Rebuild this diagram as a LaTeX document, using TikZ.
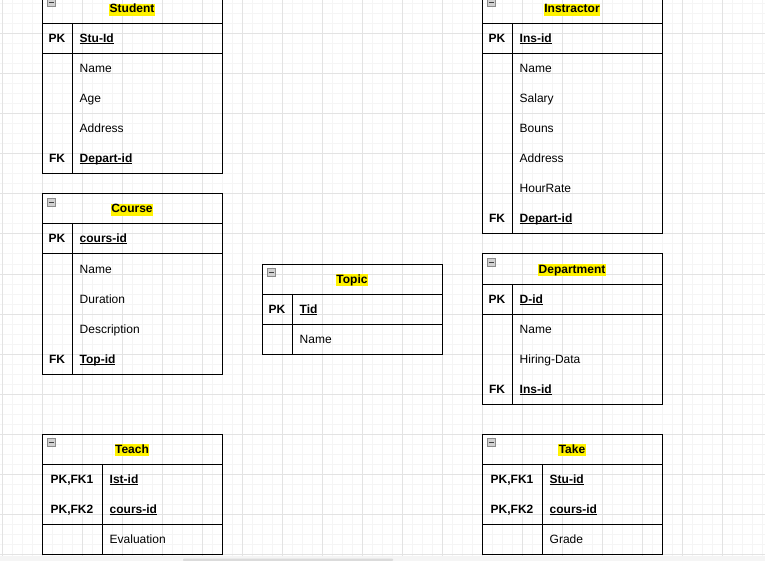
\documentclass[tikz,border=0pt]{standalone}
\usepackage{fontspec}
\setmainfont{Liberation Sans}
\newcommand{\keyattr}[1]{{\bfseries\setbox0\hbox{#1}\rlap{\rule[-1.5pt]{\wd0}{1pt}}\box0}}

\begin{document}
\begin{tikzpicture}[x=1pt, y=-1pt,
	box/.style={draw=black, line width=1pt},
	title/.style={fill=yellow, anchor=base, inner xsep=0.5pt, inner ysep=0pt, text height=9pt, text depth=3pt, font=\fontsize{12}{12}\bfseries\selectfont},
	key/.style={anchor=base, inner sep=0pt, font=\fontsize{12}{12}\bfseries\selectfont},
	field/.style={anchor=base west, inner sep=0pt, font=\fontsize{12}{12}\selectfont},
	icon/.style={draw=black!45, fill=black!18, minimum size=8pt, inner sep=0pt, line width=0.8pt,
		path picture={\draw[black!75, line width=1pt] ([xshift=1.5pt]path picture bounding box.west) -- ([xshift=-1.5pt]path picture bounding box.east);}},
	minor/.style={black!4, line width=1pt},
	major/.style={black!11, line width=1pt}]
	\useasboundingbox (0,0) rectangle (765,561);
	\fill[white] (0,0) rectangle (765,561);
	\foreach \x in {2,12,...,762} \draw[minor] (\x,0) -- (\x,556);
	\foreach \y in {4,14,...,554} \draw[minor] (0,\y) -- (765,\y);
	\foreach \x in {2,42,...,722} \draw[major] (\x,0) -- (\x,556);
	\foreach \y in {34,74,...,554} \draw[major] (0,\y) -- (765,\y);
	\fill[black!4] (0,556) rectangle (765,561);
	\fill[black!14, rounded corners=1pt] (183,558.5) rectangle (393,561);

	\begin{scope}[shift={(42,-6)}]
		\draw[box] (0,0) rectangle (180,180) (0,30) -- (180,30) (0,60) -- (180,60) (30,30) -- (30,180);
		\node[icon] (student-icon) at (9.5,8.5) {};
		\node[title] (student) at (90,19) {Student};
		\foreach \f [count=\i] in {\keyattr{Stu-Id},Name,Age,Address,\keyattr{Depart-id}}
			\node[field] (student-f\i) at (37.5,30*\i+19) {\f};
		\node[key] (student-pk) at (15,49) {PK};
		\node[key] (student-fk) at (15,169) {FK};
	\end{scope}

	\begin{scope}[shift={(42,194)}]
		\draw[box] (0,0) rectangle (180,180) (0,30) -- (180,30) (0,60) -- (180,60) (30,30) -- (30,180);
		\node[icon] (course-icon) at (9.5,8.5) {};
		\node[title] (course) at (90,19) {Course};
		\foreach \f [count=\i] in {\keyattr{cours-id},Name,Duration,Description,\keyattr{Top-id}}
			\node[field] (course-f\i) at (37.5,30*\i+19) {\f};
		\node[key] (course-pk) at (15,49) {PK};
		\node[key] (course-fk) at (15,169) {FK};
	\end{scope}

	\begin{scope}[shift={(262,264)}]
		\draw[box] (0,0) rectangle (180,90) (0,30) -- (180,30) (0,60) -- (180,60) (30,30) -- (30,90);
		\node[icon] (topic-icon) at (9.5,8.5) {};
		\node[title] (topic) at (90,19) {Topic};
		\foreach \f [count=\i] in {\keyattr{Tid},Name}
			\node[field] (topic-f\i) at (37.5,30*\i+19) {\f};
		\node[key] (topic-pk) at (15,49) {PK};
	\end{scope}

	\begin{scope}[shift={(482,-6)}]
		\draw[box] (0,0) rectangle (180,240) (0,30) -- (180,30) (0,60) -- (180,60) (30,30) -- (30,240);
		\node[icon] (instractor-icon) at (9.5,8.5) {};
		\node[title] (instractor) at (90,19) {Instractor};
		\foreach \f [count=\i] in {\keyattr{Ins-id},Name,Salary,Bouns,Address,HourRate,\keyattr{Depart-id}}
			\node[field] (instractor-f\i) at (37.5,30*\i+19) {\f};
		\node[key] (instractor-pk) at (15,49) {PK};
		\node[key] (instractor-fk) at (15,229) {FK};
	\end{scope}

	\begin{scope}[shift={(482,254)}]
		\draw[box] (0,0) rectangle (180,150) (0,30) -- (180,30) (0,60) -- (180,60) (30,30) -- (30,150);
		\node[icon] (department-icon) at (9.5,8.5) {};
		\node[title] (department) at (90,19) {Department};
		\foreach \f [count=\i] in {\keyattr{D-id},Name,Hiring-Data,\keyattr{Ins-id}}
			\node[field] (department-f\i) at (37.5,30*\i+19) {\f};
		\node[key] (department-pk) at (15,49) {PK};
		\node[key] (department-fk) at (15,139) {FK};
	\end{scope}

	\begin{scope}[shift={(42,434)}]
		\draw[box] (0,0) rectangle (180,120) (0,30) -- (180,30) (0,90) -- (180,90) (60,30) -- (60,120);
		\node[icon] (teach-icon) at (9.5,8.5) {};
		\node[title] (teach) at (90,19) {Teach};
		\foreach \f [count=\i] in {\keyattr{Ist-id},\keyattr{cours-id},Evaluation}
			\node[field] (teach-f\i) at (67.5,30*\i+19) {\f};
		\node[key] (teach-k1) at (30,49) {PK,FK1};
		\node[key] (teach-k2) at (30,79) {PK,FK2};
	\end{scope}

	\begin{scope}[shift={(482,434)}]
		\draw[box] (0,0) rectangle (180,120) (0,30) -- (180,30) (0,90) -- (180,90) (60,30) -- (60,120);
		\node[icon] (take-icon) at (9.5,8.5) {};
		\node[title] (take) at (90,19) {Take};
		\foreach \f [count=\i] in {\keyattr{Stu-id},\keyattr{cours-id},Grade}
			\node[field] (take-f\i) at (67.5,30*\i+19) {\f};
		\node[key] (take-k1) at (30,49) {PK,FK1};
		\node[key] (take-k2) at (30,79) {PK,FK2};
	\end{scope}
\end{tikzpicture}
\end{document}
